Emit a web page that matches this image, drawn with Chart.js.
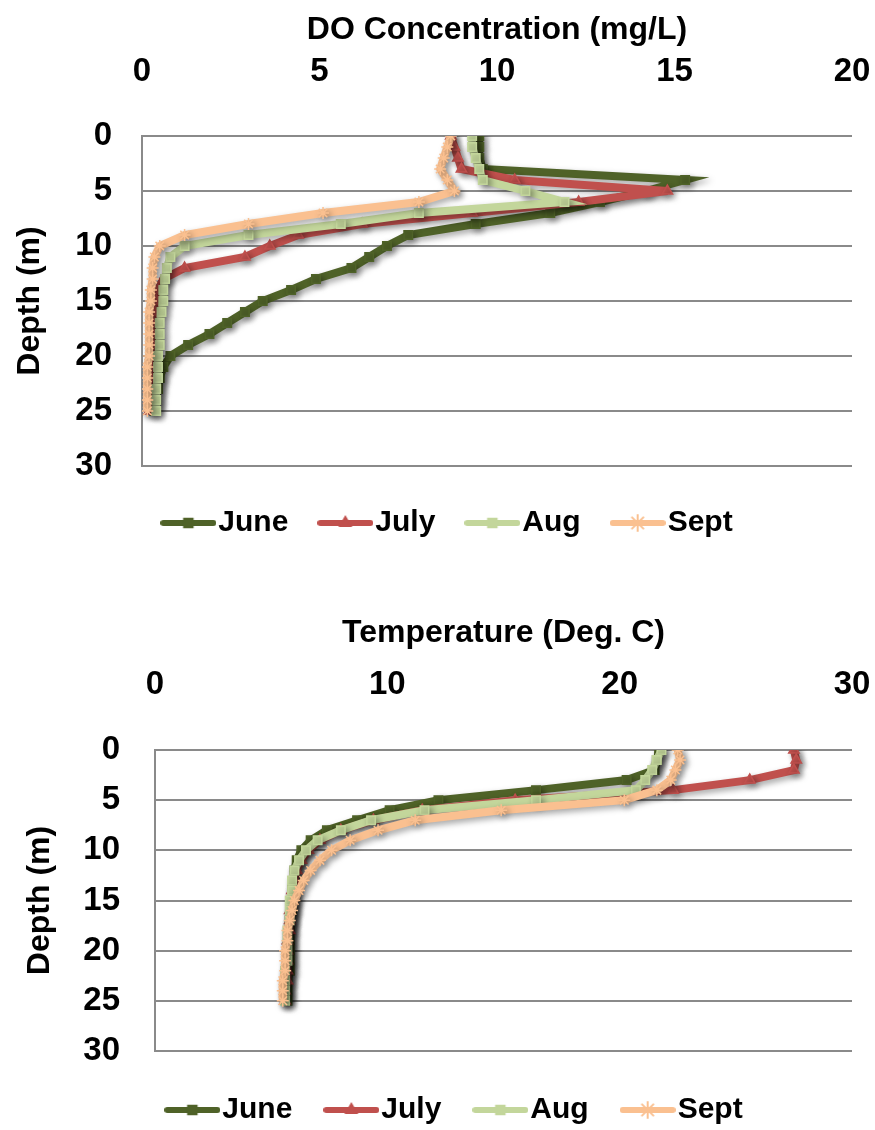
<!DOCTYPE html>
<html>
<head>
<meta charset="utf-8">
<script src="https://cdn.jsdelivr.net/npm/chart.js@4.4.1/dist/chart.umd.min.js"></script>
<style>
  html, body { margin: 0; padding: 0; background: #fff; overflow: hidden; }
  #doBox { position: absolute; left: 0; top: 0; width: 875px; height: 565px; }
  #tempBox { position: absolute; left: 0; top: 565px; width: 875px; height: 580px; }
</style>
</head>
<body>
<div id="doBox"><canvas id="doChart" width="875" height="565"></canvas></div>
<div id="tempBox"><canvas id="tempChart" width="875" height="580"></canvas></div>
<script>
// depth (m) of each sample
const depths = [0, 1, 2, 3, 4, 5, 6, 7, 8, 9, 10, 11, 12, 13, 14, 15, 16, 17, 18, 19, 20, 21, 22, 23, 24, 25];
const months = ['June', 'July', 'Aug', 'Sept'];
const colors = ['#4F6228', '#C0504D', '#C3D69B', '#FAC090'];
const markers = ['rect', 'triangle', 'rect', 'star'];

// dissolved oxygen, mg/L
const doJune = [9.5, 9.5, 9.5, 9.6, 15.3, 14.2, 12.9, 11.5, 9.4, 7.5, 6.9, 6.4, 5.9, 4.9, 4.2, 3.4, 2.9, 2.4, 1.9, 1.3, 0.8, 0.6, 0.5, 0.45, 0.4, 0.35];
const doJuly = [8.7, 8.8, 8.9, 9.0, 10.5, 14.8, 12.3, 9.3, 6.2, 4.4, 3.6, 2.9, 1.2, 0.6, 0.45, 0.4, 0.35, 0.3, 0.3, 0.3, 0.25, 0.25, 0.25, 0.2, 0.2, 0.2];
const doAug = [9.3, 9.3, 9.4, 9.5, 9.6, 10.8, 11.9, 7.8, 5.6, 3.0, 1.2, 0.8, 0.7, 0.65, 0.6, 0.6, 0.55, 0.5, 0.5, 0.5, 0.45, 0.45, 0.45, 0.4, 0.4, 0.4];
const doSept = [8.7, 8.6, 8.5, 8.4, 8.6, 8.8, 7.8, 5.1, 3.0, 1.2, 0.5, 0.35, 0.3, 0.3, 0.25, 0.25, 0.2, 0.2, 0.2, 0.2, 0.2, 0.15, 0.15, 0.15, 0.15, 0.15];

// temperature, deg C
const tempJune = [21.7, 21.6, 21.5, 20.3, 16.4, 12.2, 10.1, 8.7, 7.4, 6.7, 6.3, 6.1, 6.0, 6.0, 5.9, 5.9, 5.9, 5.8, 5.8, 5.8, 5.8, 5.8, 5.8, 5.7, 5.7, 5.7];
const tempJuly = [27.5, 27.6, 27.5, 25.6, 22.3, 15.5, 11.5, 9.4, 8.0, 7.1, 6.6, 6.3, 6.1, 6.0, 5.9, 5.9, 5.8, 5.8, 5.8, 5.7, 5.7, 5.7, 5.7, 5.7, 5.6, 5.6];
const tempAug = [21.8, 21.6, 21.4, 21.1, 20.7, 16.4, 11.6, 9.3, 8.0, 7.0, 6.5, 6.2, 6.0, 5.9, 5.9, 5.8, 5.8, 5.8, 5.7, 5.7, 5.7, 5.7, 5.6, 5.6, 5.6, 5.6];
const tempSept = [22.5, 22.6, 22.4, 22.2, 21.6, 20.2, 14.9, 11.2, 9.6, 8.4, 7.6, 7.1, 6.7, 6.4, 6.2, 6.0, 5.9, 5.8, 5.7, 5.7, 5.6, 5.6, 5.6, 5.5, 5.5, 5.5];

// tick labels
const depthTicks = [0, 5, 10, 15, 20, 25, 30];
const doTicks = [0, 5, 10, 15, 20];
const tempTicks = [0, 10, 20, 30];

Chart.defaults.font.family = '"Liberation Sans", Arial, sans-serif';
Chart.defaults.font.weight = 'bold';
Chart.defaults.color = '#000';
const GRID = '#8a8a8a';

// soft drop shadow under the lines, like the office chart
const lineShadow = {
    id: 'lineShadow',
    beforeDatasetsDraw(chart) {
        const ctx = chart.ctx;
        ctx.save();
        ctx.shadowColor = 'rgba(0,0,0,0.35)';
        ctx.shadowBlur = 6;
        ctx.shadowOffsetX = 3;
        ctx.shadowOffsetY = 3;
    },
    afterDatasetsDraw(chart) {
        chart.ctx.restore();
    }
};

// nudge the legend row sideways
const legendShift = {
    id: 'legendShift',
    afterLayout(chart, args, opts) {
        chart.legend.left += opts.dx;
        chart.legend.right += opts.dx;
    }
};

// small line + marker picture for the legend
function legendImage(color, marker) {
    const c = document.createElement('canvas');
    c.width = 56;
    c.height = 20;
    const g = c.getContext('2d');
    g.strokeStyle = color;
    g.fillStyle = color;
    g.lineWidth = 6;
    g.lineCap = 'round';
    g.beginPath();
    g.moveTo(3, 10);
    g.lineTo(53, 10);
    g.stroke();
    g.lineWidth = 2;
    Chart.helpers.drawPoint(g, {pointStyle: marker, radius: marker === 'star' ? 8 : 6, rotation: 0, borderWidth: 2}, 28, 10);
    return c;
}

function makeSets(values) {
    return values.map((vals, i) => ({
        label: months[i],
        data: vals.map((v, k) => ({x: v, y: depths[k]})),
        showLine: true,
        borderColor: colors[i],
        backgroundColor: colors[i],
        borderWidth: 8,
        pointStyle: markers[i],
        pointRadius: 6,
        pointBorderWidth: 1.5,
        pointBorderColor: colors[i],
        pointBackgroundColor: colors[i],
        order: values.length - 1 - i
    }));
}

function profileChart(canvas, sets, xTicks, xTitle, lay) {
    return new Chart(canvas, {
        type: 'scatter',
        data: {datasets: makeSets(sets)},
        options: {
            responsive: false,
            animation: false,
            layout: {autoPadding: false, padding: {left: 0, top: 0, right: 23, bottom: lay.padBottom}},
            scales: {
                x: {
                    type: 'linear',
                    position: 'top',
                    min: xTicks[0],
                    max: xTicks[xTicks.length - 1],
                    grid: {display: false},
                    border: {display: false},
                    ticks: {stepSize: xTicks[1] - xTicks[0], padding: lay.xTickPad, font: {size: 33}},
                    title: {display: true, text: xTitle, font: {size: 32}, padding: {top: lay.xTitlePad, bottom: 0}},
                    afterFit: (s) => {
                        s.height = lay.xHeight;
                        s.paddingLeft = 0;
                        s.paddingRight = 0;
                    }
                },
                y: {
                    type: 'linear',
                    reverse: true,
                    min: depthTicks[0],
                    max: depthTicks[depthTicks.length - 1],
                    grid: {color: GRID, lineWidth: 2, drawTicks: false},
                    border: {display: true, color: GRID, width: 2},
                    ticks: {stepSize: depthTicks[1] - depthTicks[0], padding: lay.yTickPad, font: {size: 33}},
                    title: {display: true, text: 'Depth (m)', font: {size: 32}, padding: {top: lay.yTitlePad, bottom: 0}},
                    afterFit: (s) => {
                        s.width = lay.yWidth;
                        s.paddingTop = 0;
                        s.paddingBottom = 0;
                    }
                }
            },
            plugins: {
                tooltip: {enabled: false},
                legendShift: {dx: lay.legendDx},
                legend: {
                    position: 'bottom',
                    labels: {
                        usePointStyle: true,
                        pointStyleWidth: 30,
                        padding: lay.legendPad,
                        font: {size: 30},
                        color: '#000',
                        generateLabels: (chart) => chart.data.datasets.map((ds, i) => ({
                            text: ds.label,
                            pointStyle: legendImage(colors[i], markers[i]),
                            fillStyle: colors[i],
                            strokeStyle: colors[i],
                            lineWidth: 0,
                            hidden: false,
                            datasetIndex: i,
                            fontColor: '#000'
                        }))
                    }
                }
            }
        },
        plugins: [lineShadow, legendShift]
    });
}

profileChart(document.getElementById('doChart'),
    [doJune, doJuly, doAug, doSept], doTicks, 'DO Concentration (mg/L)',
    {padBottom: 17, xTickPad: 36, xTitlePad: 11, xHeight: 136, yTickPad: 30, yTitlePad: 11, yWidth: 142, legendPad: 42, legendDx: 27});

profileChart(document.getElementById('tempChart'),
    [tempJune, tempJuly, tempAug, tempSept], tempTicks, 'Temperature (Deg. C)',
    {padBottom: 10, xTickPad: 37, xTitlePad: 49, xHeight: 185, yTickPad: 35, yTitlePad: 21, yWidth: 155, legendPad: 44, legendDx: 34});
</script>
</body>
</html>
